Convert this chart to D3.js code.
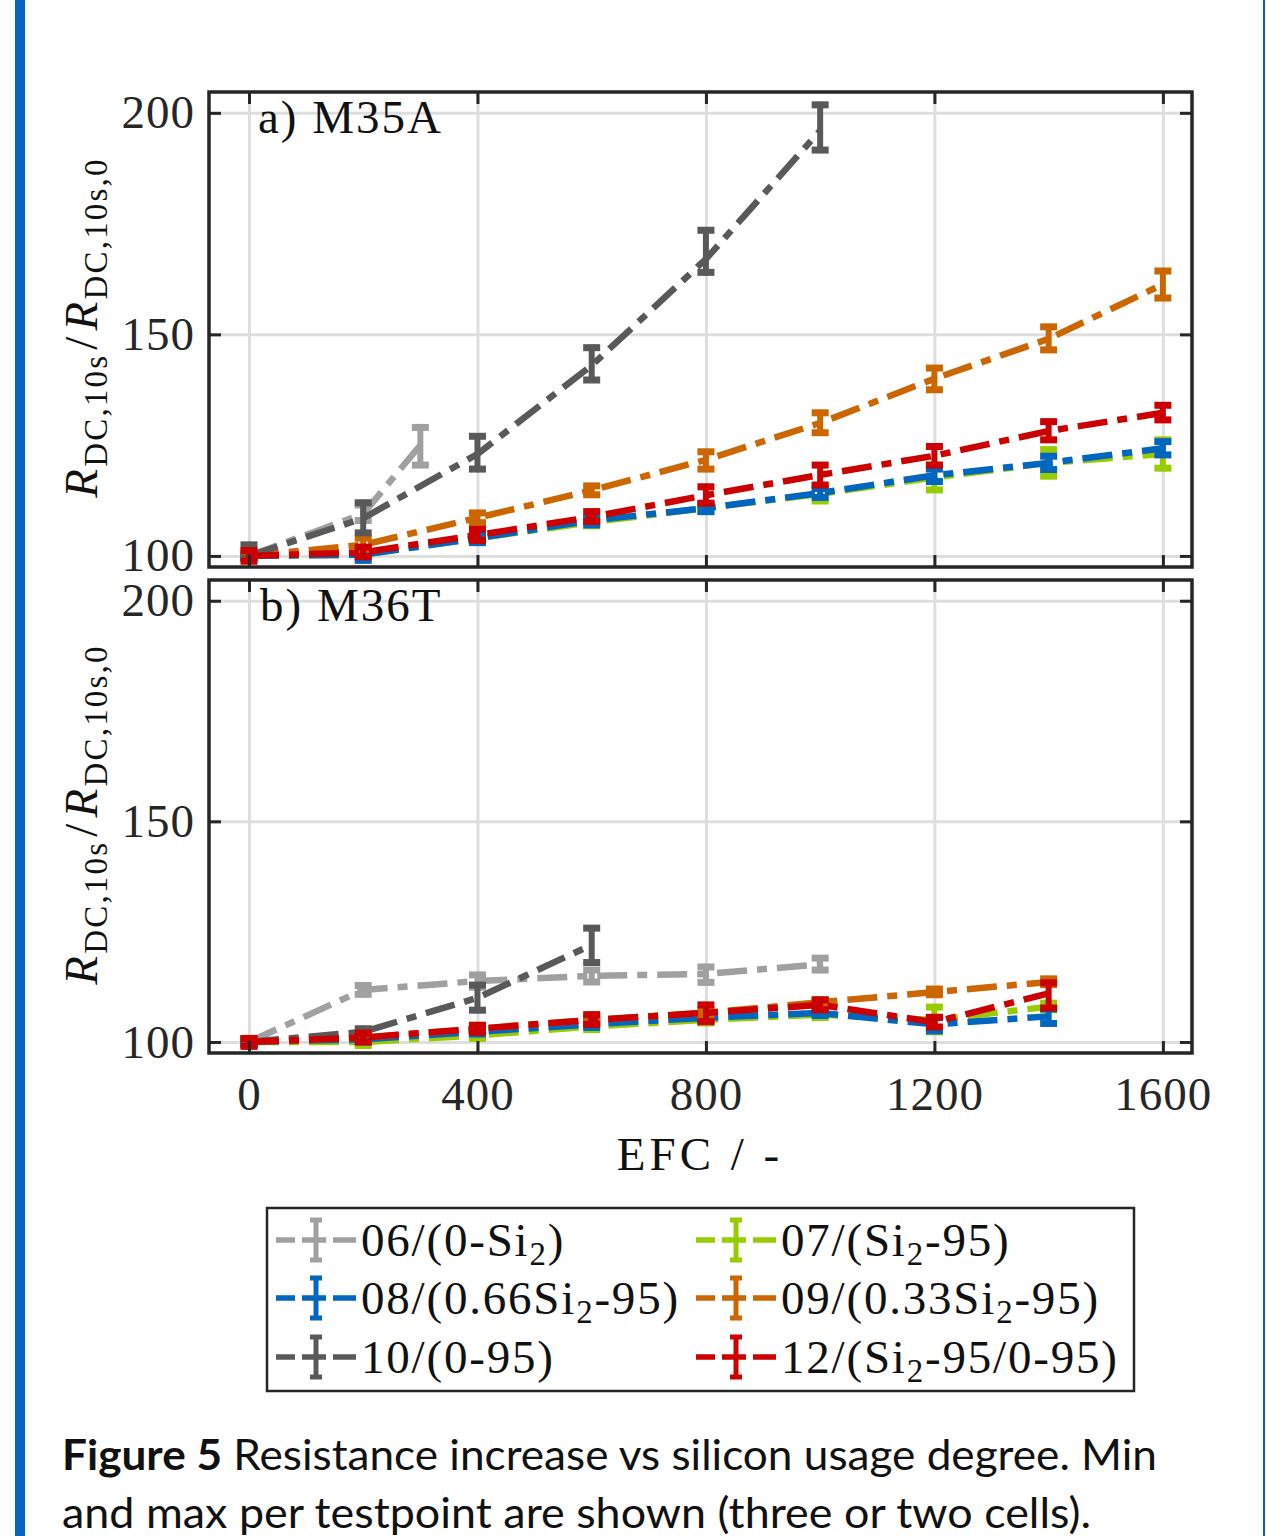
<!DOCTYPE html>
<html>
<head>
<meta charset="utf-8">
<script src="https://cdn.jsdelivr.net/npm/d3@7"></script>
<style>
  body { margin: 0; background: #fff; }
  .serif { font-family: "Liberation Serif", "DejaVu Serif", serif; }
</style>
</head>
<body>
<svg id="fig" width="1266" height="1536"></svg>
<script>
// each row: [EFC, mean, min, max]  (normalised resistance in %)
// panel a) M35A
const a06 = [[0, 100, 99.6, 100.4], [200, 109.5, 108, 111.5], [300, 125, 120.5, 129]];
const a07 = [[0, 100, 99.6, 100.4], [200, 100.3, 99.6, 101], [400, 104, 103.2, 104.8], [600, 107.6, 106.8, 108.4],
             [800, 110.8, 110, 111.6], [1000, 114, 112.4, 115.8], [1200, 117.7, 114.9, 120.5], [1400, 121, 118, 124],
             [1600, 123, 119.8, 126.2]];
const a08 = [[0, 100, 99.6, 100.3], [200, 100.3, 99, 101], [400, 104, 103, 104.8], [600, 108, 107, 108.8],
             [800, 110.8, 110, 111.6], [1000, 114.2, 113.2, 115.2], [1200, 118.2, 116.8, 119.6], [1400, 121, 119.5, 122.5],
             [1600, 124.3, 122.8, 125.8]];
const a09 = [[0, 100, 99.5, 100.8], [200, 102.5, 101.5, 104], [400, 108.6, 107.5, 109.7], [600, 114.8, 113.8, 115.8],
             [800, 121.7, 119.6, 123.5], [1000, 130, 127.8, 132.3], [1200, 140, 137.5, 142.4], [1400, 149, 146.5, 151.7],
             [1600, 161.3, 158.2, 164.3]];
const a10 = [[0, 100, 99.5, 102.5], [200, 108.5, 105.2, 112], [400, 123, 119.6, 127], [600, 143, 139.7, 147],
             [800, 167, 164, 173.5], [1000, 196, 191.6, 201.8]];
const a12 = [[0, 100, 98.8, 101.2], [200, 100.8, 99.8, 102], [400, 104.7, 103.5, 106], [600, 108.8, 107.8, 110],
             [800, 113.7, 111.9, 115.6], [1000, 118.3, 116, 120.5], [1200, 122.6, 120.5, 124.7], [1400, 128.2, 126.2, 130.3],
             [1600, 132.3, 130.7, 134]];
// panel b) M36T
const b06 = [[0, 100, 99.6, 100.4], [200, 111.8, 110.8, 112.8], [400, 113.8, 112.4, 115.2], [600, 115, 113.6, 116.3],
             [800, 115.4, 113.5, 117], [1000, 117.6, 116.3, 119]];
const b07 = [[0, 100, 99.4, 100.4], [200, 100, 99.2, 100.8], [400, 101.5, 100.8, 102.2], [600, 103.5, 102.8, 104.3],
             [800, 105, 104.3, 105.8], [1000, 106.2, 105.5, 107], [1200, 105, 102.3, 107.9], [1400, 108, 107.3, 108.8]];
const b08 = [[0, 100, 99.3, 100.5], [200, 100.6, 100, 101.2], [400, 102.3, 101.8, 102.8], [600, 104, 103.3, 104.6],
             [800, 105.5, 104.8, 106.2], [1000, 106.6, 106, 107.3], [1200, 104, 102.5, 105.5], [1400, 105.8, 104.2, 107.5]];
const b09 = [[0, 100, 99.5, 100.8], [200, 101, 100.5, 101.5], [400, 103, 102.5, 103.6], [600, 105, 104.5, 105.6],
             [800, 106.6, 106, 107.2], [1000, 109, 108.4, 109.6], [1200, 111.3, 110.7, 112], [1400, 113.6, 113, 114.3]];
const b10 = [[0, 100, 99.5, 100.5], [200, 102.3, 101.5, 103], [400, 110, 107.2, 112.9], [600, 122, 118, 125.8]];
const b12 = [[0, 100, 99, 100.8], [200, 101, 100, 102], [400, 103, 102.2, 103.8], [600, 105, 104, 106.2],
             [800, 106.6, 104.6, 108.4], [1000, 108.4, 107.3, 109.5], [1200, 104.5, 103.4, 105.6], [1400, 111, 107.7, 113.4]];

const seriesLabels = ["06/(0-Si_2)", "07/(Si_2-95)", "08/(0.66Si_2-95)", "09/(0.33Si_2-95)", "10/(0-95)", "12/(Si_2-95/0-95)"];
const seriesColors = ["#a0a0a0", "#99cc00", "#0066bf", "#cc6600", "#595959", "#cc0000"];
const xTicks = [0, 400, 800, 1200, 1600];
const yTicks = [100, 150, 200];
const panelLabels = ["a) M35A", "b) M36T"];

const svg = d3.select("#fig");
const axisColor = "#262626";
const dash = "30,10,10,10";

svg.append("rect").attr("width", 1266).attr("height", 1536).attr("fill", "#fff");
// page border of the source document
svg.append("rect").attr("x", 15).attr("y", 0).attr("width", 10).attr("height", 1536).attr("fill", "#0563c1");
svg.append("rect").attr("x", 1263).attr("y", 0).attr("width", 2).attr("height", 1536).attr("fill", "#0563c1");

const left = 209, right = 1192;
const x = d3.scaleLinear().domain([-70, 1651]).range([left, right]);

const panels = [
  { top: 92, bottom: 567, label: panelLabels[0], data: [a06, a07, a08, a09, a10, a12], xlab: false },
  { top: 580, bottom: 1053, label: panelLabels[1], data: [b06, b07, b08, b09, b10, b12], xlab: true }
];

function subText(sel, str, size) {
  // split "Si_2" into a subscript tspan
  const parts = str.split("_2");
  parts.forEach((p, i) => {
    if (i > 0) {
      sel.append("tspan").attr("dy", 9).attr("font-size", size * 0.7).text("2");
      sel.append("tspan").attr("dy", -9).text(p);
    } else {
      sel.append("tspan").text(p);
    }
  });
}

panels.forEach(p => {
  const y = d3.scaleLinear().domain([97.5, 204.7]).range([p.bottom, p.top]);
  const h = p.bottom - p.top;
  const g = svg.append("g");

  // grid
  g.append("g")
      .attr("transform", `translate(0,${p.bottom})`)
      .call(d3.axisBottom(x).tickValues(xTicks).tickSize(-h).tickFormat(""))
      .call(s => s.select(".domain").remove())
      .selectAll("line").attr("stroke", "#dedede").attr("stroke-width", 3);
  g.append("g")
      .attr("transform", `translate(${left},0)`)
      .call(d3.axisLeft(y).tickValues(yTicks).tickSize(-(right - left)).tickFormat(""))
      .call(s => s.select(".domain").remove())
      .selectAll("line").attr("stroke", "#dedede").attr("stroke-width", 3);

  // series: line + error bars, drawn in legend order
  p.data.forEach((d, i) => {
    const col = seriesColors[i];
    const line = d3.line().x(r => x(r[0])).y(r => y(r[1]));
    g.append("path")
        .attr("d", line(d))
        .attr("fill", "none")
        .attr("stroke", col)
        .attr("stroke-width", 6.5)
        .attr("stroke-dasharray", dash);
    const eb = g.append("g").attr("stroke", col);
    eb.selectAll(".v").data(d).enter().append("line")
        .attr("x1", r => x(r[0])).attr("x2", r => x(r[0]))
        .attr("y1", r => y(r[2]) + 3).attr("y2", r => y(r[3]) - 3)
        .attr("stroke-width", 6);
    eb.selectAll(".lo").data(d).enter().append("line")
        .attr("x1", r => x(r[0]) - 8.5).attr("x2", r => x(r[0]) + 8.5)
        .attr("y1", r => y(r[2])).attr("y2", r => y(r[2]))
        .attr("stroke-width", 7);
    eb.selectAll(".hi").data(d).enter().append("line")
        .attr("x1", r => x(r[0]) - 8.5).attr("x2", r => x(r[0]) + 8.5)
        .attr("y1", r => y(r[3])).attr("y2", r => y(r[3]))
        .attr("stroke-width", 7);
  });

  // ticks, all inward
  const tick = (axis, tr) => {
    g.append("g").attr("transform", tr).call(axis)
        .call(s => s.select(".domain").remove())
        .call(s => s.selectAll("line").attr("stroke", axisColor).attr("stroke-width", 3))
        .call(s => s.selectAll("text").attr("class", "serif").attr("font-size", 47)
            .attr("letter-spacing", 1).attr("fill", axisColor));
  };
  tick(d3.axisLeft(y).tickValues(yTicks).tickSize(-12).tickPadding(14), `translate(${left},0)`);
  tick(d3.axisRight(y).tickValues(yTicks).tickSize(-12).tickFormat(""), `translate(${right},0)`);
  tick(d3.axisTop(x).tickValues(xTicks).tickSize(-12).tickFormat(""), `translate(0,${p.top})`);
  tick(d3.axisBottom(x).tickValues(xTicks).tickSize(-12).tickPadding(24)
        .tickFormat(p.xlab ? d3.format("d") : ""), `translate(0,${p.bottom})`);

  // box
  g.append("rect")
      .attr("x", left).attr("y", p.top)
      .attr("width", right - left).attr("height", h)
      .attr("fill", "none").attr("stroke", axisColor).attr("stroke-width", 3.5);

  // panel label
  g.append("text").attr("class", "serif")
      .attr("x", p.top < 100 ? 258 : 260).attr("y", p.top + 41)
      .attr("font-size", 47).attr("letter-spacing", 2).attr("fill", "#111")
      .text(p.label);

  // y label
  const yl = g.append("text").attr("class", "serif")
      .attr("transform", `translate(97,${(p.top + p.bottom) / 2 - 2}) rotate(-90)`)
      .attr("text-anchor", "middle")
      .attr("font-size", 47).attr("letter-spacing", 2.2).attr("fill", "#111");
  yl.append("tspan").attr("font-style", "italic").text("R");
  yl.append("tspan").attr("font-size", 33).attr("dy", 10).text("DC,10s");
  yl.append("tspan").attr("dy", -10).attr("dx", 4).text("/");
  yl.append("tspan").attr("dx", 4).attr("font-style", "italic").text("R");
  yl.append("tspan").attr("font-size", 33).attr("dy", 10).text("DC,10s,0");
});

// x label
svg.append("text").attr("class", "serif")
    .attr("x", 700).attr("y", 1170)
    .attr("text-anchor", "middle")
    .attr("font-size", 47).attr("letter-spacing", 4).attr("fill", "#111")
    .text("EFC / -");

// legend
const lg = svg.append("g");
lg.append("rect")
    .attr("x", 267).attr("y", 1208).attr("width", 867).attr("height", 183)
    .attr("fill", "#fff").attr("stroke", axisColor).attr("stroke-width", 2.5);
const colX = [276, 696];
const rowY = [1240, 1298, 1357];
seriesLabels.forEach((lab, i) => {
  const x0 = colX[i % 2], y0 = rowY[Math.floor(i / 2)];
  const col = seriesColors[i];
  lg.append("line")
      .attr("x1", x0).attr("x2", x0 + 80).attr("y1", y0).attr("y2", y0)
      .attr("stroke", col).attr("stroke-width", 5.5)
      .attr("stroke-dasharray", "19,7,24,7,23");
  lg.append("line")
      .attr("x1", x0 + 40).attr("x2", x0 + 40).attr("y1", y0 - 20).attr("y2", y0 + 20)
      .attr("stroke", col).attr("stroke-width", 5);
  [y0 - 20, y0 + 20].forEach(yy => {
    lg.append("line")
        .attr("x1", x0 + 34).attr("x2", x0 + 46).attr("y1", yy).attr("y2", yy)
        .attr("stroke", col).attr("stroke-width", 5);
  });
  const t = lg.append("text").attr("class", "serif")
      .attr("x", x0 + 85).attr("y", y0 + 16)
      .attr("font-size", 47).attr("letter-spacing", 1.8).attr("fill", "#111");
  subText(t, lab, 47);
});

// caption
const cap1 = svg.append("text")
    .attr("x", 62).attr("y", 1470)
    .attr("font-family", "Lato, 'Open Sans', sans-serif")
    .attr("font-size", 42).attr("fill", "#111")
    .attr("textLength", 1095).attr("lengthAdjust", "spacingAndGlyphs");
cap1.append("tspan").attr("font-weight", "bold").text("Figure 5");
cap1.append("tspan").text(" Resistance increase vs silicon usage degree. Min");
svg.append("text")
    .attr("x", 62).attr("y", 1528)
    .attr("font-family", "Lato, 'Open Sans', sans-serif")
    .attr("font-size", 42).attr("fill", "#111")
    .attr("textLength", 1029).attr("lengthAdjust", "spacingAndGlyphs")
    .text("and max per testpoint are shown (three or two cells).");
</script>
</body>
</html>
